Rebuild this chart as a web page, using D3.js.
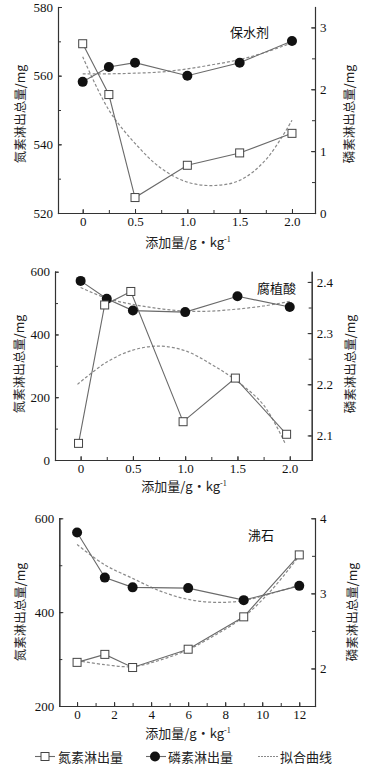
<!DOCTYPE html>
<html><head><meta charset="utf-8">
<script src="https://cdn.jsdelivr.net/npm/d3@7"></script>
<style>
html,body{margin:0;padding:0;background:#fff;}
svg{display:block;}
</style></head>
<body>
<script>
// ---------- Data ----------
// Panel 1: 保水剂
const p1Title = "保水剂";
const p1X = [0, 0.25, 0.5, 1.0, 1.5, 2.0];
const p1N = [569.3, 554.5, 524.5, 533.9, 537.5, 543.2];
const p1P = [2.12, 2.36, 2.43, 2.22, 2.43, 2.78];
const p1FitX = [0, 0.25, 0.5, 0.75, 1.0, 1.25, 1.5, 1.75, 2.0];
const p1FitN = [565.5, 550, 540.3, 533, 529, 528, 529.5, 535.5, 547];
const p1FitP = [2.25, 2.25, 2.26, 2.28, 2.33, 2.40, 2.48, 2.60, 2.75];
const p1XTicks = [0, 0.5, 1.0, 1.5, 2.0];
const p1LTicks = [520, 540, 560, 580];
const p1RTicks = [0, 1, 2, 3];

// Panel 2: 腐植酸
const p2Title = "腐植酸";
const p2NX = [-0.02, 0.23, 0.48, 0.98, 1.48, 1.97];
const p2N = [53, 494, 537, 122, 261, 82];
const p2PX = [0, 0.25, 0.5, 1.0, 1.5, 2.0];
const p2P = [2.402, 2.367, 2.344, 2.341, 2.372, 2.351];
const p2FitNX = [-0.03, 0.25, 0.5, 0.75, 1.0, 1.25, 1.5, 1.75, 1.96];
const p2FitN = [241, 312, 350, 363, 348, 305, 250, 175, 50];
const p2FitPX = [0, 0.25, 0.5, 0.75, 1.0, 1.25, 1.5, 1.75, 2.0];
const p2FitP = [2.389, 2.368, 2.356, 2.348, 2.343, 2.343, 2.347, 2.353, 2.362];
const p2XTicks = [0, 0.5, 1.0, 1.5, 2.0];
const p2LTicks = [0, 200, 400, 600];
const p2RTicks = [2.1, 2.2, 2.3, 2.4];

// Panel 3: 沸石
const p3Title = "沸石";
const p3X = [0, 1.5, 3, 6, 9, 12];
const p3N = [293, 310, 282, 321, 390, 522];
const p3P = [3.81, 3.21, 3.08, 3.07, 2.91, 3.10];
const p3FitX = [0, 1.5, 3, 4.5, 6, 7.5, 9, 10.5, 12];
const p3FitN = [297, 288, 284, 298, 320, 352, 390, 447, 520];
const p3FitP = [3.65, 3.38, 3.20, 3.03, 2.92, 2.88, 2.905, 3.00, 3.11];
const p3XTicks = [0, 2, 4, 6, 8, 10, 12];
const p3LTicks = [200, 400, 600];
const p3RTicks = [2, 3, 4];

const leftLabel = "氮素淋出总量/mg";
const rightLabel = "磷素淋出总量/mg";
const xLabelMain = "添加量/g·kg";
const xLabelSup = "-1";
const legendItems = ["氮素淋出量", "磷素淋出量", "拟合曲线"];

// ---------- Drawing ----------
const W = 374, H = 771;
const serif = "'Liberation Serif','DejaVu Serif',serif";
const cjk = "'Noto Sans CJK SC','Liberation Serif',sans-serif";
const svg = d3.select("body").append("svg").attr("width", W).attr("height", H);

const AXIS = "#333", LINE = "#6a6a6a", FIT = "#8a8a8a";

function range(a, b, s) { const r = []; for (let v = a; v <= b + 1e-9; v += s) r.push(+v.toFixed(4)); return r; }

function panel(cfg) {
  const g = svg.append("g");
  const x = d3.scaleLinear().domain(cfg.xDom).range([cfg.left, cfg.right]);
  const yL = d3.scaleLinear().domain(cfg.yLDom).range([cfg.bottom, cfg.top]);
  const yR = d3.scaleLinear().domain(cfg.yRDom).range([cfg.bottom, cfg.top]);

  // minor ticks
  g.append("g").attr("transform", `translate(0,${cfg.bottom})`)
    .call(d3.axisBottom(x).tickValues(cfg.xMinor).tickSizeInner(-3).tickSizeOuter(0).tickFormat(""));
  g.append("g").attr("transform", `translate(${cfg.left},0)`)
    .call(d3.axisLeft(yL).tickValues(cfg.yLMinor).tickSizeInner(-3).tickSizeOuter(0).tickFormat(""));
  g.append("g").attr("transform", `translate(${cfg.right},0)`)
    .call(d3.axisRight(yR).tickValues(cfg.yRMinor).tickSizeInner(-3).tickSizeOuter(0).tickFormat(""));
  // major ticks + labels
  g.append("g").attr("transform", `translate(0,${cfg.bottom})`)
    .call(d3.axisBottom(x).tickValues(cfg.xTicks).tickSizeInner(-4).tickSizeOuter(0).tickPadding(4).tickFormat(cfg.xFmt));
  g.append("g").attr("transform", `translate(${cfg.left},0)`)
    .call(d3.axisLeft(yL).tickValues(cfg.yLTicks).tickSizeInner(-4).tickSizeOuter(0).tickPadding(5).tickFormat(d3.format("d")));
  g.append("g").attr("transform", `translate(${cfg.right},0)`)
    .call(d3.axisRight(yR).tickValues(cfg.yRTicks).tickSizeInner(-4).tickSizeOuter(0).tickPadding(5).tickFormat(cfg.yRFmt));
  g.selectAll(".domain").attr("stroke", AXIS).attr("stroke-width", 1.1).attr("stroke-linecap", "square");
  g.selectAll(".tick line").attr("stroke", AXIS);
  g.selectAll(".tick text").attr("font-family", serif).attr("font-size", 13).attr("fill", "#111");

  // axis titles
  g.append("text").attr("transform", `translate(${cfg.lLabX},${cfg.labY}) rotate(-90)`)
    .attr("text-anchor", "middle").attr("dominant-baseline", "central")
    .attr("font-family", cjk).attr("font-size", 12.5).attr("fill", "#222").text(leftLabel);
  g.append("text").attr("transform", `translate(${cfg.rLabX},${cfg.labY}) rotate(-90)`)
    .attr("text-anchor", "middle").attr("dominant-baseline", "central")
    .attr("font-family", cjk).attr("font-size", 12.5).attr("fill", "#222").text(rightLabel);
  const xt = g.append("text").attr("x", cfg.xLabX).attr("y", cfg.xLabY).attr("text-anchor", "middle")
    .attr("font-family", cjk).attr("font-size", 13).attr("fill", "#222");
  xt.append("tspan").text(xLabelMain);
  xt.append("tspan").attr("font-size", 8).attr("dy", -5).attr("font-family", serif).text(xLabelSup);

  // title
  g.append("text").attr("x", cfg.titleX).attr("y", cfg.titleY)
    .attr("font-family", cjk).attr("font-size", 13).attr("fill", "#111").text(cfg.title);

  const curve = d3.curveCatmullRom.alpha(0.5);
  // fit curves
  const fitN = d3.line().x(d => x(d[0])).y(d => yL(d[1])).curve(curve);
  const fitP = d3.line().x(d => x(d[0])).y(d => yR(d[1])).curve(curve);
  g.append("path").attr("d", fitN(d3.zip(cfg.fitNX, cfg.fitN))).attr("fill", "none")
    .attr("stroke", FIT).attr("stroke-width", 1.2).attr("stroke-dasharray", "3,2");
  g.append("path").attr("d", fitP(d3.zip(cfg.fitPX, cfg.fitP))).attr("fill", "none")
    .attr("stroke", FIT).attr("stroke-width", 1.2).attr("stroke-dasharray", "3,2");

  // connecting lines
  const lnN = d3.line().x(d => x(d[0])).y(d => yL(d[1]));
  const lnP = d3.line().x(d => x(d[0])).y(d => yR(d[1]));
  const nPts = d3.zip(cfg.nX, cfg.n), pPts = d3.zip(cfg.pX, cfg.p);
  g.append("path").attr("d", lnP(pPts)).attr("fill", "none").attr("stroke", LINE).attr("stroke-width", 1.1);
  g.append("path").attr("d", lnN(nPts)).attr("fill", "none").attr("stroke", LINE).attr("stroke-width", 1.1);

  // markers
  g.selectAll(null).data(pPts).join("circle")
    .attr("cx", d => x(d[0])).attr("cy", d => yR(d[1])).attr("r", 5).attr("fill", "#111");
  g.selectAll(null).data(nPts).join("rect")
    .attr("x", d => x(d[0]) - 4).attr("y", d => yL(d[1]) - 4).attr("width", 8).attr("height", 8)
    .attr("fill", "#fff").attr("stroke", "#444").attr("stroke-width", 1);
}

const fmt1 = d => d === 0 ? "0" : d3.format(".1f")(d);

panel({
  top: 7, bottom: 213, left: 58, right: 315,
  xDom: [-0.236, 2.22], yLDom: [520, 580], yRDom: [0, 3.33],
  xTicks: p1XTicks, xMinor: range(0, 2, 0.25), xFmt: fmt1,
  yLTicks: p1LTicks, yLMinor: range(520, 580, 10),
  yRTicks: p1RTicks, yRMinor: range(0, 3, 0.5), yRFmt: d3.format("d"),
  nX: p1X, n: p1N, pX: p1X, p: p1P,
  fitNX: p1FitX, fitN: p1FitN, fitPX: p1FitX, fitP: p1FitP,
  title: p1Title, titleX: 230, titleY: 37,
  lLabX: 19, rLabX: 348, labY: 114, xLabX: 188, xLabY: 247
});

panel({
  top: 271.7, bottom: 460, left: 55, right: 311.7,
  xDom: [-0.245, 2.21], yLDom: [0, 600], yRDom: [2.052, 2.42],
  xTicks: p2XTicks, xMinor: range(0, 2, 0.25), xFmt: fmt1,
  yLTicks: p2LTicks, yLMinor: range(0, 600, 100),
  yRTicks: p2RTicks, yRMinor: range(2.1, 2.4, 0.05), yRFmt: d3.format(".1f"),
  nX: p2NX, n: p2N, pX: p2PX, p: p2P,
  fitNX: p2FitNX, fitN: p2FitN, fitPX: p2FitPX, fitP: p2FitP,
  title: p2Title, titleX: 257, titleY: 293,
  lLabX: 18, rLabX: 349, labY: 364, xLabX: 184, xLabY: 491
});

panel({
  top: 518.3, bottom: 706, left: 59.3, right: 315,
  xDom: [-0.96, 12.85], yLDom: [200, 600], yRDom: [1.5, 4],
  xTicks: p3XTicks, xMinor: range(0, 12, 1), xFmt: d3.format("d"),
  yLTicks: p3LTicks, yLMinor: range(200, 600, 100),
  yRTicks: p3RTicks, yRMinor: range(1.5, 4, 0.5), yRFmt: d3.format("d"),
  nX: p3X, n: p3N, pX: p3X, p: p3P,
  fitNX: p3FitX, fitN: p3FitN, fitPX: p3FitX, fitP: p3FitP,
  title: p3Title, titleX: 248, titleY: 540,
  lLabX: 19, rLabX: 351, labY: 612, xLabX: 188, xLabY: 738
});

// ---------- Legend ----------
const lg = svg.append("g");
const ly = 756.5;
lg.append("line").attr("x1", 35).attr("x2", 55).attr("y1", ly).attr("y2", ly).attr("stroke", LINE).attr("stroke-width", 1.1);
lg.append("rect").attr("x", 41).attr("y", ly - 4).attr("width", 8).attr("height", 8).attr("fill", "#fff").attr("stroke", "#444");
lg.append("text").attr("x", 58).attr("y", ly).attr("dominant-baseline", "central")
  .attr("font-family", cjk).attr("font-size", 13).attr("fill", "#222").text(legendItems[0]);
lg.append("line").attr("x1", 146).attr("x2", 166).attr("y1", ly).attr("y2", ly).attr("stroke", LINE).attr("stroke-width", 1.1);
lg.append("circle").attr("cx", 155).attr("cy", ly).attr("r", 5).attr("fill", "#111");
lg.append("text").attr("x", 168).attr("y", ly).attr("dominant-baseline", "central")
  .attr("font-family", cjk).attr("font-size", 13).attr("fill", "#222").text(legendItems[1]);
lg.append("line").attr("x1", 258).attr("x2", 278).attr("y1", ly).attr("y2", ly).attr("stroke", FIT)
  .attr("stroke-width", 1.2).attr("stroke-dasharray", "2,1");
lg.append("text").attr("x", 280).attr("y", ly).attr("dominant-baseline", "central")
  .attr("font-family", cjk).attr("font-size", 13).attr("fill", "#222").text(legendItems[2]);
</script>
</body></html>
